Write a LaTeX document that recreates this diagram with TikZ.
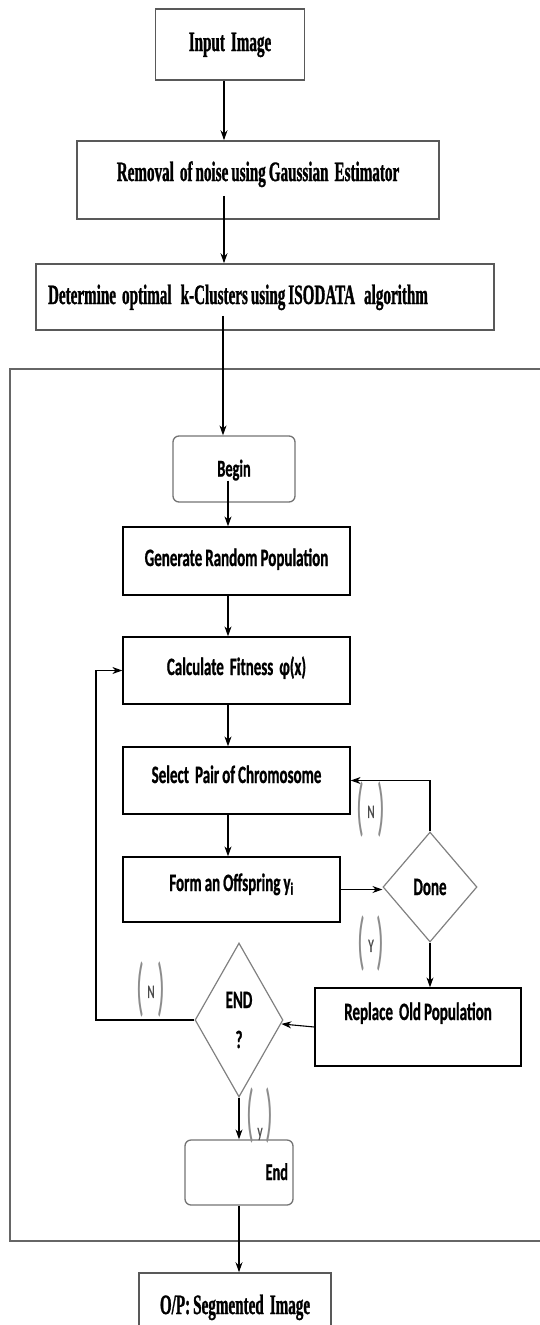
\documentclass[tikz,border=0pt]{standalone}
\usepackage{fontspec}
\usepackage{graphicx}
\usepackage{xcolor}
\usetikzlibrary{shapes.geometric,arrows.meta}

\newfontfamily\headfont[FakeStretch=0.54,FakeBold=1,WordSpace=0.8]{Liberation Serif}
\newfontfamily\stepfont[FakeStretch=0.6,FakeBold=0.8,WordSpace=0.9]{Carlito}
\newfontfamily\markfont[FakeStretch=0.4]{Carlito}
\newcommand{\ynmark}[2][11pt]{\textcolor{black!45}{\markfont\fontsize{64}{64}\selectfont(}\hspace{3pt}\raisebox{#1}{#2}\hspace{3pt}\textcolor{black!45}{\markfont\fontsize{64}{64}\selectfont)}}

\begin{document}
\begin{tikzpicture}[x=1pt,y=-1pt,>={Stealth[length=10pt,width=7pt]},line width=1.1pt,
  topbox/.style={draw=black!65,line width=1.6pt,text height=18pt,text depth=0pt,
    font=\headfont\bfseries\fontsize{28}{31}\selectfont},
  stepbox/.style={draw,line width=1.3pt,text height=16pt,text depth=0pt,
    font=\stepfont\bfseries\fontsize{25}{28}\selectfont},
  termbox/.style={draw=black!55,rounded corners=6pt,line width=1.3pt,text height=15pt,text depth=0pt,
    font=\stepfont\bfseries\fontsize{24}{26}\selectfont},
  decision/.style={diamond,draw=black!50,line width=1.2pt,inner sep=0pt,align=center,
    font=\stepfont\bfseries\fontsize{25}{28}\selectfont},
  ynlbl/.style={inner sep=0pt,text=black!70,font=\stepfont\fontsize{19}{22}\selectfont},
  frame/.style={draw=black!60,line width=1.5pt}]

\useasboundingbox (0,0) rectangle (539,1325);

\node(input) at (230,44.5)[topbox,minimum width=149pt,minimum height=71pt,text depth=5pt]{Input~ Image};
\node(removal) at (258,180)[topbox,minimum width=362pt,minimum height=78pt,text depth=16pt]{Removal~ of noise using Gaussian~ Estimator};
\node(determine) at (265,297)[topbox,minimum width=458pt,minimum height=66pt,text depth=4pt,
  inner xsep=0pt]{\makebox[434pt][l]{Determine~ optimal~~ k-Clusters using ISODATA~~ algorithm}};

\draw[frame] (545,369) -- (10,369) -- (10,1241) -- (545,1241);

\node(begin) at (234,469)[termbox,minimum width=122pt,minimum height=66pt]{Begin};
\node(gen) at (236.5,561)[stepbox,minimum width=227pt,minimum height=68pt,text depth=6pt]{Generate Random Population};
\node(calc) at (236.5,670.5)[stepbox,minimum width=227pt,minimum height=67pt,text depth=7pt]{Calculate~ Fitness~ φ(x)};
\node(select) at (236.5,780.5)[stepbox,minimum width=227pt,minimum height=67pt,text depth=11pt]{Select~ Pair of Chromosome};
\node(form) at (231.5,889.5)[stepbox,minimum width=217pt,minimum height=65pt,text depth=13pt]{Form an Offspring y\textsubscript{i}};
\node(done) at (430,887)[decision,minimum width=94pt,minimum height=110pt]{Done};
\node(replace) at (418,1027)[stepbox,minimum width=206pt,minimum height=78pt,text depth=30pt]{Replace~ Old Population};
\node(endq) at (239,1020)[decision,minimum width=88pt,minimum height=154pt]{END\\[12pt]?};
\node(endbox) at (239,1172.5)[termbox,minimum width=108pt,minimum height=65pt,
  inner xsep=5pt,text width=98pt,align=right]{End};
\node(output) at (235,1305)[topbox,minimum width=192pt,minimum height=64pt]{O/P: Segmented~ Image};

\node(lbln1) at (371,810)[ynlbl]{\ynmark{N}};
\node(lbly1) at (371,944)[ynlbl]{\ynmark{Y}};
\node(lbln2) at (151,990)[ynlbl]{\ynmark{N}};
\node(lbly2) at (260,1116)[ynlbl]{\ynmark[-2pt]{y}};

\coordinate(loop) at (96,670.5);

\draw[->] ([xshift=-6pt]input.south) -- ([xshift=-6pt]input.south |- removal.north);
\draw[->] ([xshift=-34pt,yshift=24pt]removal.south) -- ([xshift=-34pt]removal.south |- determine.north);
\draw[->] ([xshift=-42pt,yshift=15pt]determine.south) -- ([xshift=-42pt]determine.south |- begin.north);
\draw[->] ([xshift=-6pt,yshift=22pt]begin.south) -- ([xshift=-6pt]begin.south |- gen.north);
\draw[->] ([xshift=-8.5pt]gen.south) -- ([xshift=-8.5pt]gen.south |- calc.north);
\draw[->] ([xshift=-8.5pt]calc.south) -- ([xshift=-8.5pt]calc.south |- select.north);
\draw[->] ([xshift=-8.5pt]select.south) -- ([xshift=-8.5pt]select.south |- form.north);
\draw[->] (form.east) -- (form.east -| done.west);
\draw[->] (done.north) |- (select.east);
\draw[->] (done.south) -- (done.south |- replace.north);
\draw[->] (replace.west) -- (endq);
\draw[->] (endq.west) -| (loop) -- (calc.west);
\draw[->] (endq.south) -- (endq.south |- endbox.north);
\draw[->] (endbox.south) -- (endbox.south |- output.north);

\end{tikzpicture}
\end{document}
